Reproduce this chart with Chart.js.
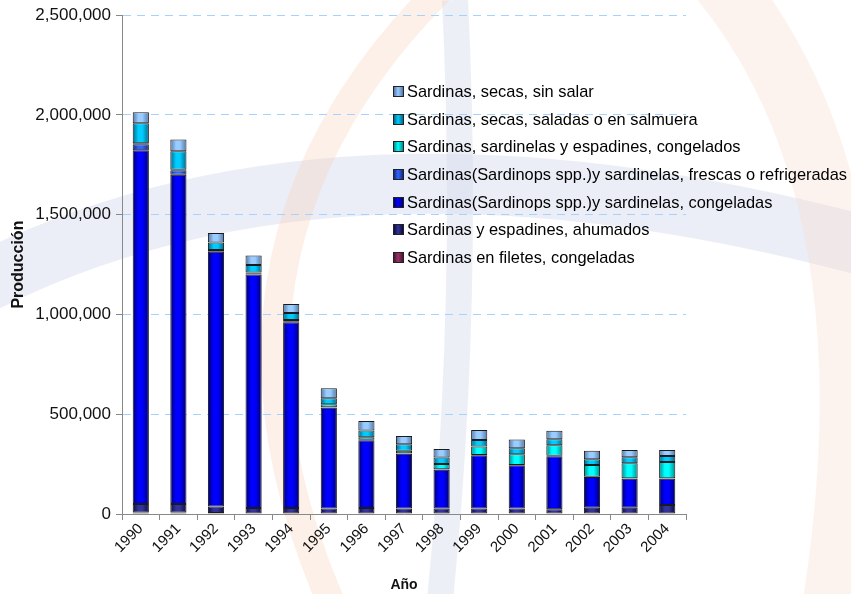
<!DOCTYPE html>
<html>
<head>
<meta charset="utf-8">
<script src="https://cdn.jsdelivr.net/npm/chart.js@4.4.1/dist/chart.umd.min.js"></script>
<style>
  body { margin:0; background:#fff; font-family:"Liberation Sans", Arial, sans-serif; }
  #wrap { position:relative; width:851px; height:594px; }
  #legend { position:absolute; left:393px; top:78px; }
  .item { height:27.6px; display:flex; align-items:center; font-size:16.4px; color:#000; white-space:nowrap; }
  .box { width:9px; height:9px; border:1px solid #222; margin-right:3px; }
</style>
</head>
<body>
<div id="wrap">
  <canvas id="chart" width="851" height="594"></canvas>
  <div id="legend"></div>
</div>
<script>
// Producción de sardinas por año

const years = ["1990","1991","1992","1993","1994","1995","1996","1997","1998","1999","2000","2001","2002","2003","2004"];
const yTicks = [0, 500000, 1000000, 1500000, 2000000, 2500000];

// bottom of the stack first
const filetes       = [8000, 8000, 5000, 3000, 3000, 3000, 2000, 2000, 2000, 2000, 2000, 2000, 2000, 2000, 2000];
const ahumados      = [42000, 42000, 33000, 27000, 27000, 25000, 28000, 26000, 26000, 26000, 26000, 22000, 29000, 29000, 43000];
const congeladas    = [1773000, 1650000, 1277000, 1171000, 931000, 504000, 340000, 274000, 194000, 266000, 216000, 266000, 154000, 146000, 132000];
const frescas       = [30000, 23000, 3000, 3000, 3000, 3000, 2000, 2000, 2000, 2000, 2000, 2000, 2000, 2000, 2000];
const espadinesCong = [5000, 3000, 5000, 6000, 8000, 15000, 13000, 13000, 27000, 42000, 53000, 53000, 58000, 75000, 82000];
const saladas       = [100000, 92000, 38000, 38000, 35000, 30000, 33000, 32000, 32000, 33000, 30000, 30000, 30000, 30000, 30000];
const sinSalar      = [55000, 59000, 48000, 48000, 45000, 50000, 48000, 42000, 43000, 50000, 45000, 42000, 42000, 37000, 30000];

const series = [
  { label: "Sardinas en filetes, congeladas", data: filetes, color: "#993366", dark: "#4a1630" },
  { label: "Sardinas y espadines, ahumados", data: ahumados, color: "#333399", dark: "#0c0c40" },
  { label: "Sardinas(Sardinops spp.)y sardinelas, congeladas", data: congeladas, color: "#0000ff", dark: "#000070" },
  { label: "Sardinas(Sardinops spp.)y sardinelas, frescas o refrigeradas", data: frescas, color: "#3366ff", dark: "#102a80" },
  { label: "Sardinas, sardinelas y espadines, congelados", data: espadinesCong, color: "#00ffff", dark: "#008c8c" },
  { label: "Sardinas, secas, saladas o en salmuera", data: saladas, color: "#00ccff", dark: "#006a8a" },
  { label: "Sardinas, secas, sin salar", data: sinSalar, color: "#99ccff", dark: "#5578a8" }
];

const BAR_W = 16;

function barFill(s){
  return function(ctx){
    const chart = ctx.chart;
    if(!chart.chartArea || !chart.scales.x) return s.color;
    const cx = chart.scales.x.getPixelForValue(ctx.dataIndex);
    const g = chart.ctx.createLinearGradient(cx - BAR_W/2, 0, cx + BAR_W/2, 0);
    g.addColorStop(0, s.dark);
    g.addColorStop(0.35, s.color);
    g.addColorStop(0.6, s.color);
    g.addColorStop(1, s.dark);
    return g;
  };
}

// faint logo in the background
const watermark = {
  id: "watermark",
  beforeDraw(chart){
    const c = chart.ctx;
    c.save();
    c.lineCap = "butt";
    c.strokeStyle = "rgba(205,212,235,0.4)";
    c.lineWidth = 60;
    c.beginPath(); c.moveTo(-30, 290); c.quadraticCurveTo(330, 100, 880, 250); c.stroke();
    c.strokeStyle = "rgba(215,220,238,0.45)";
    c.lineWidth = 26;
    c.beginPath(); c.moveTo(455, 0); c.quadraticCurveTo(470, 300, 440, 600); c.stroke();
    c.strokeStyle = "rgba(250,205,180,0.3)";
    c.lineWidth = 28;
    c.beginPath(); c.moveTo(440, -10); c.quadraticCurveTo(180, 250, 330, 600); c.stroke();
    c.strokeStyle = "rgba(250,215,200,0.3)";
    c.lineWidth = 60;
    c.beginPath(); c.moveTo(720, -20); c.quadraticCurveTo(900, 200, 830, 620); c.stroke();
    c.restore();
  }
};

new Chart(document.getElementById("chart"), {
  type: "bar",
  data: {
    labels: years,
    datasets: series.map(s => ({
      label: s.label,
      data: s.data,
      backgroundColor: barFill(s),
      borderColor: "#1a1a1a",
      borderWidth: 1,
      borderSkipped: false,
      categoryPercentage: 1,
      barPercentage: 0.43
    }))
  },
  options: {
    responsive: false,
    animation: false,
    layout: { padding: { top: 15, right: 165, bottom: 0, left: 9 } },
    plugins: { legend: { display: false }, tooltip: { enabled: false } },
    scales: {
      x: {
        stacked: true,
        afterFit: s => { s.height = 80; },
        grid: { drawOnChartArea: false, drawTicks: true, tickLength: 6, color: "#888", offset: true },
        border: { color: "#888" },
        ticks: { color: "#111", font: { size: 15, family: "Liberation Sans" }, minRotation: 45, maxRotation: 45, padding: 0 },
        title: { display: true, text: "Año", color: "#111", font: { size: 14, weight: "bold", family: "Liberation Sans" }, padding: { top: 0, bottom: 0 } }
      },
      y: {
        stacked: true,
        min: 0,
        max: 2500000,
        afterFit: s => { s.width = 113; },
        afterBuildTicks: s => { s.ticks = yTicks.map(v => ({ value: v })); },
        grid: {
          color: c => c.tick && c.tick.value === 0 ? "rgba(0,0,0,0)" : "#a6d2ff",
          tickColor: "#888",
          tickLength: 6
        },
        border: { color: "#888", dash: [8, 6] },
        ticks: {
          color: "#111",
          padding: 5,
          font: { size: 17, family: "Liberation Sans" },
          callback: v => v.toLocaleString("en-US")
        },
        title: { display: true, text: "Producción", color: "#111", font: { size: 16, weight: "bold", family: "Liberation Sans" }, padding: { top: 0, bottom: 0 } }
      }
    }
  },
  plugins: [watermark]
});

// legend, same order as the picture (top series first)
const legendEl = document.getElementById("legend");
legendEl.innerHTML = series.slice().reverse().map(s => `
  <div class="item">
    <span class="box" style="background:linear-gradient(90deg, ${s.dark}, ${s.color} 45%, ${s.dark})"></span>${s.label}
  </div>`).join("");
</script>
</body>
</html>
